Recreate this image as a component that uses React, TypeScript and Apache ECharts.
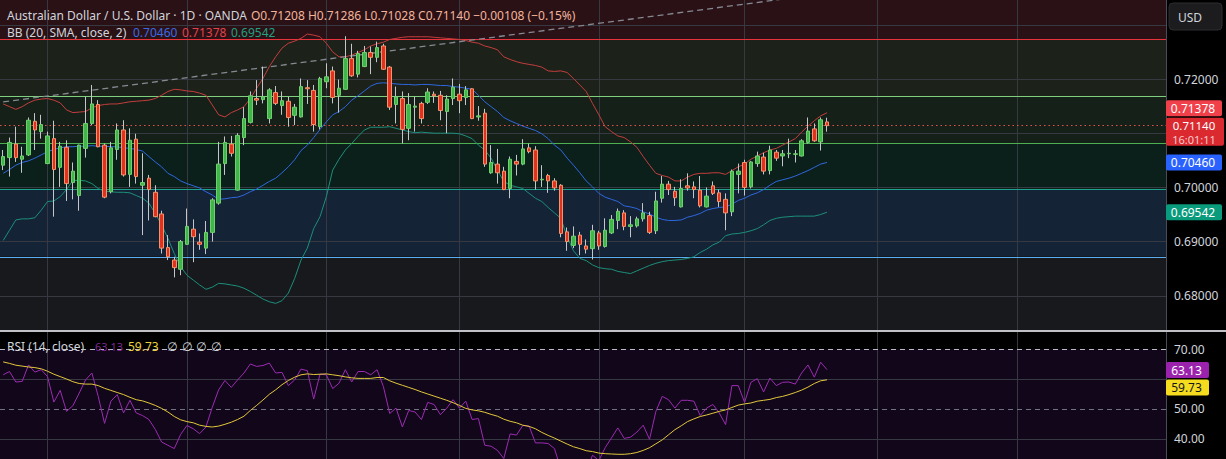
import React, { useEffect, useRef } from "react";
import * as echarts from "echarts";

// ---------- data ----------
const SLOT_COUNT = 184; // candle slots on the time axis (incl. empty future space)
const slots = Array.from({ length: SLOT_COUNT }, (_, i) => String(i));

const opens = [
  0.7041, 0.7055, 0.708, 0.7052, 0.706, 0.7122, 0.7103, 0.7044, 0.709, 0.7037,
  0.7074, 0.7009, 0.6985, 0.7072, 0.7118, 0.7153, 0.7078, 0.6992, 0.707, 0.7106,
  0.7024, 0.7089, 0.7004, 0.7017, 0.6991, 0.6951, 0.6889, 0.6866, 0.6849, 0.6895,
  0.6923, 0.6899, 0.6888, 0.6917, 0.6971, 0.7044, 0.708, 0.6995, 0.7092, 0.712,
  0.7164, 0.7162, 0.7127, 0.7175, 0.7151, 0.7159, 0.7133, 0.713, 0.7184, 0.7179,
  0.7112, 0.7195, 0.7215, 0.717, 0.7181, 0.7238, 0.7209, 0.7223, 0.7249, 0.724,
  0.7261, 0.7222, 0.7153, 0.7164, 0.7109, 0.7148, 0.7155, 0.7157, 0.7172, 0.717,
  0.714, 0.7164, 0.7172, 0.7166, 0.7182, 0.713, 0.7137, 0.7027, 0.7043, 0.703,
  0.6998, 0.7048, 0.7043, 0.7073, 0.7069, 0.7014, 0.7022, 0.7012, 0.7004, 0.6918,
  0.6893, 0.6912, 0.6892, 0.6887, 0.6916, 0.6891, 0.6916, 0.6939, 0.6953, 0.6928,
  0.6929, 0.6942, 0.6948, 0.692, 0.698, 0.7006, 0.6993, 0.6964, 0.7003, 0.7001,
  0.6995, 0.6964, 0.7003, 0.699, 0.6978, 0.6955, 0.7024, 0.7046, 0.7001, 0.7044,
  0.7056, 0.7031, 0.7065, 0.7058, 0.7062, 0.7061, 0.7058, 0.7083, 0.7108, 0.7084,
  0.71208,
];
const highs = [
  0.7069, 0.7092, 0.7112, 0.7075, 0.7129, 0.7137, 0.7134, 0.7103, 0.7123, 0.7084,
  0.7087, 0.7046, 0.7079, 0.7167, 0.7189, 0.7161, 0.7081, 0.7084, 0.7118, 0.7124,
  0.7109, 0.7099, 0.7063, 0.7023, 0.7004, 0.6957, 0.6912, 0.6872, 0.6903, 0.6961,
  0.6941, 0.6915, 0.6938, 0.698, 0.7084, 0.7094, 0.7095, 0.71, 0.7148, 0.7177,
  0.7198, 0.7223, 0.7183, 0.7187, 0.7177, 0.7167, 0.7154, 0.7201, 0.7198, 0.7189,
  0.7204, 0.7229, 0.7223, 0.7199, 0.7279, 0.7265, 0.7252, 0.7261, 0.726, 0.7269,
  0.7265, 0.7224, 0.7186, 0.7177, 0.7174, 0.7167, 0.7158, 0.7183, 0.7177, 0.7178,
  0.717, 0.7201, 0.7191, 0.7187, 0.7183, 0.715, 0.7145, 0.7078, 0.7071, 0.7038,
  0.7057, 0.706, 0.7089, 0.7081, 0.7076, 0.7041, 0.7025, 0.7017, 0.7006, 0.6926,
  0.6928, 0.6918, 0.6904, 0.6931, 0.692, 0.6943, 0.6949, 0.6961, 0.6958, 0.6947,
  0.6946, 0.6971, 0.6955, 0.6992, 0.7021, 0.7012, 0.7001, 0.7015, 0.7026, 0.7011,
  0.7021, 0.7, 0.7011, 0.6996, 0.6989, 0.7033, 0.7044, 0.7051, 0.7049, 0.7066,
  0.7064, 0.7077, 0.7069, 0.7069, 0.709, 0.7069, 0.7089, 0.7129, 0.7118, 0.7129,
  0.71286,
];
const lows = [
  0.7032, 0.702, 0.7047, 0.7027, 0.7058, 0.7069, 0.709, 0.7043, 0.6946, 0.7001,
  0.6975, 0.6978, 0.6957, 0.7055, 0.7115, 0.7074, 0.698, 0.6989, 0.7051, 0.702,
  0.7001, 0.7007, 0.6912, 0.6939, 0.6945, 0.6878, 0.6866, 0.6834, 0.6838, 0.6894,
  0.6862, 0.6885, 0.6877, 0.69, 0.6968, 0.7023, 0.7057, 0.6994, 0.7078, 0.7118,
  0.7152, 0.7155, 0.7118, 0.7152, 0.7134, 0.7112, 0.7115, 0.7129, 0.7154, 0.7103,
  0.7107, 0.7183, 0.7155, 0.7138, 0.718, 0.7204, 0.7203, 0.7222, 0.7209, 0.7231,
  0.7217, 0.7143, 0.7118, 0.7081, 0.7087, 0.7103, 0.7118, 0.7154, 0.7156, 0.7124,
  0.71, 0.7152, 0.7137, 0.7152, 0.7126, 0.7123, 0.7038, 0.7025, 0.7007, 0.6995,
  0.698, 0.7022, 0.7041, 0.7063, 0.6996, 0.7001, 0.699, 0.6994, 0.6908, 0.6883,
  0.6888, 0.6875, 0.6878, 0.6867, 0.6885, 0.6889, 0.6914, 0.6923, 0.6921, 0.6908,
  0.6926, 0.6937, 0.6914, 0.6914, 0.6972, 0.6986, 0.6966, 0.6963, 0.6994, 0.698,
  0.6963, 0.6963, 0.6986, 0.6964, 0.6921, 0.6947, 0.6989, 0.6985, 0.6998, 0.7038,
  0.7024, 0.7024, 0.7049, 0.7039, 0.7054, 0.7046, 0.7057, 0.7081, 0.7084, 0.7068,
  0.71028,
];
const closes = [
  0.7057, 0.7083, 0.7055, 0.7058, 0.7124, 0.7106, 0.7116, 0.7095, 0.7033, 0.7076,
  0.7007, 0.703, 0.7078, 0.7118, 0.7154, 0.7075, 0.6982, 0.7073, 0.7106, 0.7023,
  0.7087, 0.702, 0.7009, 0.6996, 0.6946, 0.6888, 0.6872, 0.6852, 0.69, 0.6928,
  0.6909, 0.6895, 0.6917, 0.6977, 0.7043, 0.7083, 0.7063, 0.7096, 0.7127, 0.7169,
  0.7161, 0.7167, 0.718, 0.7155, 0.716, 0.7129, 0.7148, 0.7186, 0.7182, 0.7116,
  0.7201, 0.7204, 0.7166, 0.7183, 0.7238, 0.7206, 0.7247, 0.7249, 0.724, 0.7258,
  0.7218, 0.7148, 0.7167, 0.7107, 0.7153, 0.715, 0.7127, 0.7176, 0.7169, 0.7142,
  0.7163, 0.7185, 0.716, 0.718, 0.7127, 0.7132, 0.7043, 0.7046, 0.7027, 0.6996,
  0.7052, 0.7043, 0.7071, 0.7066, 0.7012, 0.7015, 0.7012, 0.6999, 0.6915, 0.69,
  0.691, 0.6895, 0.6886, 0.692, 0.6892, 0.6921, 0.6941, 0.6956, 0.6928, 0.6931,
  0.6942, 0.6953, 0.6917, 0.6975, 0.7006, 0.6996, 0.6981, 0.6998, 0.6999, 0.6996,
  0.6966, 0.6984, 0.6989, 0.6974, 0.6953, 0.703, 0.703, 0.7, 0.7047, 0.7058,
  0.703, 0.7069, 0.7054, 0.7062, 0.7063, 0.7062, 0.7086, 0.7104, 0.7086, 0.71248,
  0.7114,
];

const bbUpper = [
  0.7154, 0.7149, 0.7144, 0.7149, 0.7156, 0.7161, 0.7163, 0.7164, 0.7161, 0.7156,
  0.7143, 0.7138, 0.7139, 0.714, 0.7147, 0.7151, 0.7153, 0.7154, 0.7154, 0.7156,
  0.7158, 0.7159, 0.716, 0.7161, 0.7164, 0.717, 0.7177, 0.7181, 0.718, 0.7178,
  0.7177, 0.7174, 0.717, 0.7152, 0.7134, 0.713, 0.7138, 0.7143, 0.7149, 0.7164,
  0.7183, 0.7201, 0.7223, 0.7241, 0.7257, 0.7266, 0.727, 0.7275, 0.7283, 0.7281,
  0.7278, 0.7266, 0.725, 0.7241, 0.7241, 0.7244, 0.7249, 0.7254, 0.7261, 0.7265,
  0.7268, 0.7273, 0.7275, 0.7277, 0.7278, 0.7278, 0.7278, 0.7278, 0.7277, 0.7276,
  0.7275, 0.7274, 0.7273, 0.7271, 0.7268, 0.7266, 0.7261, 0.7258, 0.7254, 0.7241,
  0.7236, 0.7232, 0.7229, 0.7227, 0.7225, 0.7222, 0.7215, 0.7214, 0.7215, 0.7212,
  0.7201, 0.7189, 0.7177, 0.7155, 0.7134, 0.7112, 0.7103, 0.7095, 0.7092, 0.7084,
  0.7074, 0.7057, 0.7041, 0.7026, 0.7022, 0.7019, 0.7012, 0.7012, 0.7019, 0.7024,
  0.7026, 0.7026, 0.7027, 0.7027, 0.7024, 0.7031, 0.7038, 0.7043, 0.7052, 0.7058,
  0.7064, 0.7069, 0.7072, 0.7078, 0.7084, 0.709, 0.7102, 0.7113, 0.7123, 0.7132,
  0.71378,
];
const bbBasis = [
  0.7026, 0.7033, 0.7041, 0.7046, 0.7049, 0.7054, 0.706, 0.7066, 0.707, 0.7073,
  0.7075, 0.7075, 0.7076, 0.7076, 0.7077, 0.7076, 0.7076, 0.7075, 0.7075, 0.7073,
  0.7072, 0.707, 0.7067, 0.7057, 0.7047, 0.7038, 0.7026, 0.702, 0.7012, 0.7007,
  0.7003, 0.6999, 0.6992, 0.6986, 0.6978, 0.6979, 0.6981, 0.6982, 0.6986, 0.6992,
  0.6997, 0.7004, 0.7011, 0.7017, 0.7027, 0.7038, 0.7051, 0.7068, 0.7078, 0.7092,
  0.7107, 0.7121, 0.7134, 0.714, 0.7149, 0.7161, 0.7169, 0.7178, 0.7187, 0.7192,
  0.7193, 0.7192, 0.7191, 0.719, 0.719, 0.7189, 0.719, 0.719, 0.7189, 0.7188,
  0.7188, 0.7186, 0.7185, 0.7183, 0.7181, 0.717, 0.7158, 0.7149, 0.714, 0.7129,
  0.7123, 0.7118, 0.7113, 0.7109, 0.7105, 0.7099, 0.709, 0.7078, 0.7069, 0.7054,
  0.7041, 0.7027, 0.7012, 0.7001, 0.6989, 0.6982, 0.6978, 0.6974, 0.6966, 0.6964,
  0.6961, 0.6955, 0.6951, 0.6945, 0.6941, 0.6939, 0.6939, 0.694, 0.6945, 0.6948,
  0.6952, 0.6958, 0.6961, 0.6963, 0.6964, 0.6969, 0.6976, 0.698, 0.6986, 0.699,
  0.6996, 0.7004, 0.7011, 0.7014, 0.7017, 0.7021, 0.7026, 0.7031, 0.7037, 0.7043,
  0.7046,
];
const bbLower = [
  0.6902, 0.6921, 0.694, 0.6942, 0.6942, 0.6944, 0.6958, 0.6974, 0.6975, 0.6983,
  0.6996, 0.7013, 0.7013, 0.7012, 0.7007, 0.6998, 0.6993, 0.6992, 0.6991, 0.6991,
  0.699, 0.6985, 0.698, 0.6971, 0.6952, 0.6931, 0.6906, 0.6878, 0.6854, 0.6838,
  0.6829, 0.682, 0.6812, 0.6816, 0.6823, 0.6822, 0.682, 0.6818, 0.6814, 0.6808,
  0.6801, 0.6794, 0.6789, 0.6786, 0.6791, 0.6805, 0.6832, 0.6866, 0.6888, 0.6924,
  0.6946, 0.6983, 0.7032, 0.7052, 0.7069, 0.7081, 0.7094, 0.7106, 0.7111, 0.7111,
  0.7111, 0.7112, 0.7109, 0.7106, 0.7103, 0.7101, 0.7102, 0.7101, 0.71, 0.71,
  0.71, 0.71, 0.7099, 0.7095, 0.709, 0.7078, 0.7069, 0.7054, 0.7032, 0.7011,
  0.7004, 0.7001, 0.6998, 0.6989, 0.698, 0.6974, 0.6963, 0.6953, 0.6943, 0.6909,
  0.6883, 0.6869, 0.6865, 0.6857, 0.6852, 0.685, 0.6849, 0.6845, 0.6843, 0.6841,
  0.6846, 0.6851, 0.6856, 0.686, 0.6863, 0.6865, 0.6866, 0.6867, 0.6869, 0.6872,
  0.688, 0.6886, 0.6894, 0.6899, 0.6911, 0.6914, 0.6915, 0.6917, 0.692, 0.6924,
  0.6931, 0.6939, 0.6943, 0.6945, 0.6946, 0.6947, 0.6947, 0.6947, 0.6947, 0.695,
  0.69542,
];

const rsiValues = [
  61.4, 62.5, 59.0, 59.2, 64.7, 62.3, 63.1, 60.8, 52.3, 56.2,
  49.2, 51.1, 55.3, 59.7, 62.0, 54.2, 45.2, 52.6, 54.8, 48.7,
  52.9, 48.7, 47.8, 46.5, 43.2, 39.0, 37.9, 36.8, 41.5, 44.5,
  43.4, 41.8, 44.0, 50.6, 56.4, 59.5, 57.2, 59.7, 62.0, 65.0,
  64.2, 64.5, 65.3, 62.0, 62.2, 57.8, 59.7, 63.3, 62.8, 53.3,
  61.6, 61.4, 56.8, 58.6, 63.1, 59.0, 62.5, 62.5, 61.4, 63.1,
  57.5, 48.5, 50.3, 44.0, 49.5, 49.0, 46.5, 52.2, 51.5, 48.1,
  50.3, 53.1, 50.3, 52.6, 46.5, 46.8, 37.9, 37.6, 36.2, 33.5,
  41.7, 41.3, 44.5, 44.3, 38.7, 38.7, 38.5, 36.8, 30.0, 29.0,
  31.0, 29.5, 29.0, 34.6, 32.8, 37.1, 40.4, 43.7, 40.2, 40.6,
  42.3, 44.6, 39.9, 49.2, 54.2, 53.1, 50.3, 52.9, 52.9, 52.6,
  47.8, 50.3, 51.5, 48.7, 44.8, 57.8, 57.8, 52.2, 58.9, 60.1,
  55.7, 60.3, 57.8, 58.9, 59.0, 58.3, 62.0, 64.7, 60.6, 65.6,
  63.13,
];
const rsiMaValues = [
  65.7, 65.2, 64.6, 64.3, 64.0, 63.8, 63.4, 62.6, 61.6, 60.8,
  60.0, 59.1, 58.5, 58.3, 58.3, 57.8, 56.9, 56.2, 55.5, 54.8,
  53.9, 53.1, 52.7, 52.0, 51.2, 50.2, 49.0, 47.5, 46.4, 45.8,
  45.4, 44.6, 44.2, 44.0, 44.3, 44.9, 45.6, 46.5, 47.6, 49.5,
  51.2, 53.0, 54.9, 56.4, 58.1, 59.5, 60.6, 61.4, 61.7, 61.5,
  61.6, 61.7, 61.4, 61.1, 60.7, 60.4, 60.2, 60.2, 60.2, 60.5,
  60.5, 59.4, 58.6, 57.9, 57.2, 56.5, 55.7, 55.0, 54.3, 53.6,
  52.9, 52.1, 51.2, 50.2, 49.7, 49.4, 48.9, 48.2, 47.6, 46.6,
  45.9, 45.4, 44.6, 44.2, 43.4, 42.2, 41.2, 40.3, 39.3, 38.3,
  37.4, 36.8, 36.1, 35.8, 35.3, 35.1, 35.0, 34.9, 34.9, 35.1,
  35.5, 36.2, 37.1, 38.4, 39.7, 41.4, 43.1, 44.4, 45.8, 46.7,
  47.5, 48.0, 48.6, 49.2, 49.7, 50.5, 51.3, 51.7, 52.0, 52.6,
  52.9, 53.2, 53.8, 54.2, 54.8, 55.5, 56.3, 57.3, 58.5, 59.4,
  59.73,
];

// drawn trend line: [slot, price]
const trendLinePoints = [
  [0, 0.71578],
  [150, 0.73891],
];
// horizontal zone borders (top to bottom)
const zoneLevels = [0.7273, 0.7168, 0.7082, 0.6997, 0.6872];
const priceGridLevels = [0.68, 0.69, 0.7, 0.71, 0.72, 0.73];
const priceTickLabels = [0.68, 0.69, 0.7, 0.72];
const rsiTickLabels = [40, 50, 70];
const rsiGridLevels = [40, 60];
const rsiDashedLevels = [50, 70];
const monthStartSlots = [7, 29, 51, 72, 94, 117, 138, 160];
const countdownText = "16:01:11";

// ---------- styling ----------
const PRICE_MIN = 0.67369;
const PRICE_MAX = 0.73458;
const RSI_MIN = 33.33;
const RSI_MAX = 75.67;
const FONT = '"Noto Sans", "DejaVu Sans", sans-serif';
const GRID_COLOR = "#363942";
const zoneFills = ["#2a1115", "#1c2219", "#152118", "#0b201b", "#142335", "#18191d"];
const zoneLineColors = ["#e8323c", "#7fcf7f", "#4caf50", "#22a08f", "#5aaef0"];

const LAST = closes.length - 1;
const f5 = (v: number) => v.toFixed(5);
const uminus = (s: string) => s.replace("-", "\u2212");

export default function App() {
  const ref = useRef<HTMLDivElement>(null);

  useEffect(() => {
    if (!ref.current) return;
    const chart = echarts.init(ref.current, undefined, { renderer: "svg" });

    const bodyData = opens.map((o, i) => {
      const c = closes[i];
      return [o, c, Math.min(o, c), Math.max(o, c)];
    });
    const wickData = opens.map((o, i) => [o, closes[i], lows[i], highs[i]]);

    const change = closes[LAST] - closes[LAST - 1];
    const changePct = (change / closes[LAST - 1]) * 100;
    const ohlcText =
      `O${f5(opens[LAST])} H${f5(highs[LAST])} L${f5(lows[LAST])} C${f5(closes[LAST])} ` +
      `${uminus(change.toFixed(5))} (${uminus(changePct.toFixed(2))}%)`;

    // zones between levels
    const bounds = [PRICE_MAX, ...zoneLevels, PRICE_MIN];
    const zoneAreas = zoneFills.map((color, i) => [
      { yAxis: bounds[i + 1], itemStyle: { color, opacity: 1, borderWidth: 0 } },
      { yAxis: bounds[i] },
    ]);

    const mainTags = [
      { value: bbUpper[LAST], bg: "#f0404a", fg: "#ffffff", dy: -4.5, w: 56 },
      { value: closes[LAST], bg: "#da2a30", fg: "#ffffff", dy: 0, w: 58, sub: countdownText },
      { value: bbBasis[LAST], bg: "#2962ff", fg: "#ffffff", dy: 0, w: 56 },
      { value: bbLower[LAST], bg: "#0a9a7c", fg: "#ffffff", dy: 0, w: 56 },
    ];
    const rsiTags = [
      { value: rsiValues[LAST], bg: "#9a22ad", fg: "#ffffff", dy: 0.5, w: 43 },
      { value: rsiMaValues[LAST], bg: "#f5dc1f", fg: "#131722", dy: 7.8, w: 43 },
    ];

    const tagRenderer = (tags: any[], digits: number) => (params: any, api: any) => {
      const t = tags[params.dataIndex];
      const cs = params.coordSys;
      const x0 = cs.x + cs.width;
      const yc = api.coord([api.value(0), api.value(1)])[1] + t.dy;
      const valueText = t.value.toFixed(digits);
      const cx = x0 + t.w / 2 - 1;
      const children: any[] = [
        {
          type: "rect",
          shape: { x: x0, y: yc - 8, width: t.w, height: t.sub ? 28 : 16, r: 2 },
          style: { fill: t.bg },
        },
        {
          type: "text",
          style: {
            text: valueText,
            x: cx,
            y: yc,
            align: "center",
            verticalAlign: "middle",
            fill: t.fg,
            font: `${t.sub ? 11.5 : 12}px ${FONT}`,
          },
        },
      ];
      if (t.sub) {
        children.push({
          type: "text",
          style: {
            text: t.sub,
            x: cx,
            y: yc + 13.5,
            align: "center",
            verticalAlign: "middle",
            fill: "#f9c9cc",
            font: `11px ${FONT}`,
          },
        });
      }
      return { type: "group", children };
    };

    const makeXAxis = (gridIndex: number) => ({
      type: "category",
      gridIndex,
      data: slots,
      boundaryGap: true,
      axisLine: { show: false },
      axisTick: { show: false },
      axisLabel: { show: false },
      splitLine: { show: false },
    });

    const vLines = () =>
      monthStartSlots.map((s) => ({
        xAxis: String(s),
        lineStyle: { color: GRID_COLOR, width: 1, type: "solid" },
      }));

    const text = (x: number, y: number, t: string, fill: string, size = 12) => ({
      type: "text",
      x,
      y,
      z: 100,
      style: { text: t, fill, font: `${size}px ${FONT}`, verticalAlign: "middle" },
    });

    const option: any = {
      backgroundColor: "#000000",
      animation: false,
      grid: [
        { left: -4.6, right: 60, top: 0, height: 330 },
        { left: -4.6, right: 60, top: 332, height: 127 },
      ],
      xAxis: [makeXAxis(0), makeXAxis(1)],
      yAxis: [
        {
          gridIndex: 0,
          type: "value",
          position: "right",
          min: PRICE_MIN,
          max: PRICE_MAX,
          axisLine: { show: true, lineStyle: { color: "#4a4d56" } },
          axisTick: { show: false },
          splitLine: { show: false },
          splitArea: { show: false },
          axisLabel: {
            customValues: priceTickLabels,
            formatter: (v: number) => v.toFixed(5),
            color: "#d1d4dc",
            fontSize: 12,
            fontFamily: FONT,
            margin: 8,
          },
        },
        {
          gridIndex: 1,
          type: "value",
          position: "right",
          min: RSI_MIN,
          max: RSI_MAX,
          axisLine: { show: true, lineStyle: { color: "#4a4d56" } },
          axisTick: { show: false },
          splitLine: { show: false },
          splitArea: { show: false },
          axisLabel: {
            customValues: rsiTickLabels,
            formatter: (v: number) => v.toFixed(2),
            color: "#d1d4dc",
            fontSize: 12,
            fontFamily: FONT,
            margin: 8,
          },
        },
      ],
      series: [
        // zone fills, grid lines and zone borders
        {
          type: "line",
          xAxisIndex: 0,
          yAxisIndex: 0,
          data: [],
          silent: true,
          z: 1,
          markArea: { silent: true, z: 0, precision: 8, label: { show: false }, data: zoneAreas },
          markLine: {
            silent: true,
            z: 1,
            precision: 8,
            symbol: ["none", "none"],
            label: { show: false },
            data: [
              ...priceGridLevels.map((v) => ({
                yAxis: v,
                lineStyle: { color: GRID_COLOR, width: 1, type: "solid" },
              })),
              ...vLines(),
              ...zoneLevels.map((v, i) => ({
                yAxis: v,
                lineStyle: { color: zoneLineColors[i], width: 1, type: "solid", opacity: 1 },
              })),
            ],
          },
        },
        // Bollinger bands
        {
          type: "line",
          name: "BB upper",
          xAxisIndex: 0,
          yAxisIndex: 0,
          data: bbUpper,
          showSymbol: false,
          z: 3,
          lineStyle: { color: "#c43d3d", width: 1 },
        },
        {
          type: "line",
          name: "BB basis",
          xAxisIndex: 0,
          yAxisIndex: 0,
          data: bbBasis,
          showSymbol: false,
          z: 3,
          lineStyle: { color: "#2f67e0", width: 1 },
        },
        {
          type: "line",
          name: "BB lower",
          xAxisIndex: 0,
          yAxisIndex: 0,
          data: bbLower,
          showSymbol: false,
          z: 3,
          lineStyle: { color: "#1c8f7c", width: 1 },
        },
        // trend line drawing
        {
          type: "line",
          xAxisIndex: 0,
          yAxisIndex: 0,
          data: trendLinePoints.map(([s, v]) => [String(s), v]),
          showSymbol: false,
          z: 4,
          lineStyle: { color: "#868993", width: 1.3, type: [6, 4] },
        },
        // wicks
        {
          type: "candlestick",
          xAxisIndex: 0,
          yAxisIndex: 0,
          data: wickData,
          barWidth: 1,
          z: 5,
          itemStyle: {
            color: "#c4c6cc",
            color0: "#c4c6cc",
            borderColor: "#c4c6cc",
            borderColor0: "#c4c6cc",
            borderWidth: 1,
          },
        },
        // bodies
        {
          type: "candlestick",
          xAxisIndex: 0,
          yAxisIndex: 0,
          data: bodyData,
          barWidth: 4,
          z: 6,
          itemStyle: {
            color: "#3fb54a",
            color0: "#e0321f",
            borderColor: "#72cf70",
            borderColor0: "#f3946c",
            borderWidth: 1,
          },
          markLine: {
            silent: true,
            z: 5,
            precision: 8,
            symbol: ["none", "none"],
            label: { show: false },
            data: [
              {
                yAxis: closes[LAST],
                lineStyle: { color: "#e4524a", width: 1, type: [1.5, 3] },
              },
            ],
          },
        },
        // right-hand price tags
        {
          type: "custom",
          xAxisIndex: 0,
          yAxisIndex: 0,
          clip: false,
          silent: true,
          z: 20,
          data: mainTags.map((t) => [LAST, t.value]),
          encode: { x: 0, y: 1 },
          renderItem: tagRenderer(mainTags, 5),
        },
        // RSI pane background + levels
        {
          type: "line",
          xAxisIndex: 1,
          yAxisIndex: 1,
          data: [],
          silent: true,
          z: 1,
          markArea: {
            silent: true,
            z: 0,
            precision: 8,
            label: { show: false },
            data: [[{ yAxis: RSI_MIN, itemStyle: { color: "#11061a", opacity: 1, borderWidth: 0 } }, { yAxis: 70 }]],
          },
          markLine: {
            silent: true,
            z: 1,
            precision: 8,
            symbol: ["none", "none"],
            label: { show: false },
            data: [
              ...rsiGridLevels.map((v) => ({
                yAxis: v,
                lineStyle: { color: GRID_COLOR, width: 1, type: "solid" },
              })),
              ...vLines(),
              ...rsiDashedLevels.map((v) => ({
                yAxis: v,
                lineStyle: {
                  color: v === 70 ? "#b9bcc4" : "#6f7280",
                  width: 1,
                  type: [5, 4],
                },
              })),
            ],
          },
        },
        {
          type: "line",
          name: "RSI",
          xAxisIndex: 1,
          yAxisIndex: 1,
          data: rsiValues,
          showSymbol: false,
          z: 3,
          lineStyle: { color: "#9c2cb2", width: 1 },
        },
        {
          type: "line",
          name: "RSI MA",
          xAxisIndex: 1,
          yAxisIndex: 1,
          data: rsiMaValues,
          showSymbol: false,
          z: 4,
          lineStyle: { color: "#e3c93c", width: 1 },
        },
        {
          type: "custom",
          xAxisIndex: 1,
          yAxisIndex: 1,
          clip: false,
          silent: true,
          z: 20,
          data: rsiTags.map((t) => [LAST, t.value]),
          encode: { x: 0, y: 1 },
          renderItem: tagRenderer(rsiTags, 2),
        },
      ],
      graphic: [
        // pane separator
        { type: "rect", z: 100, shape: { x: 0, y: 330, width: 1226, height: 2 }, style: { fill: "#bfc1c7" } },
        // currency box
        {
          type: "rect",
          z: 100,
          shape: { x: 1169, y: 3, width: 53, height: 27, r: 4 },
          style: { fill: "#1c1c1e", stroke: "#2c2c30", lineWidth: 1 },
        },
        text(1178, 17, "USD", "#d1d4dc"),
        // legends
        text(7, 15, "Australian Dollar / U.S. Dollar · 1D · OANDA", "#d1d4dc"),
        text(251, 15, ohlcText, "#f3b49b"),
        text(7, 32, "BB (20, SMA, close, 2)", "#d1d4dc"),
        text(133, 32, f5(bbBasis[LAST]), "#3c6ae6"),
        text(182, 32, f5(bbUpper[LAST]), "#e0434b"),
        text(231, 32, f5(bbLower[LAST]), "#21a082"),
        text(7, 346, "RSI (14, close)", "#d1d4dc"),
        text(95, 346, rsiValues[LAST].toFixed(2), "#7f2a92", 11),
        text(128, 346, rsiMaValues[LAST].toFixed(2), "#ecd23a"),
        text(167, 346, "\u2205", "#d1d4dc"),
        text(182, 346, "\u2205", "#d1d4dc"),
        text(196, 346, "\u2205", "#d1d4dc"),
        text(211, 346, "\u2205", "#d1d4dc"),
      ],
    };

    chart.setOption(option);
    return () => chart.dispose();
  }, []);

  return (
    <div
      ref={ref}
      style={{ position: "fixed", left: 0, top: 0, width: 1226, height: 459 }}
    />
  );
}
